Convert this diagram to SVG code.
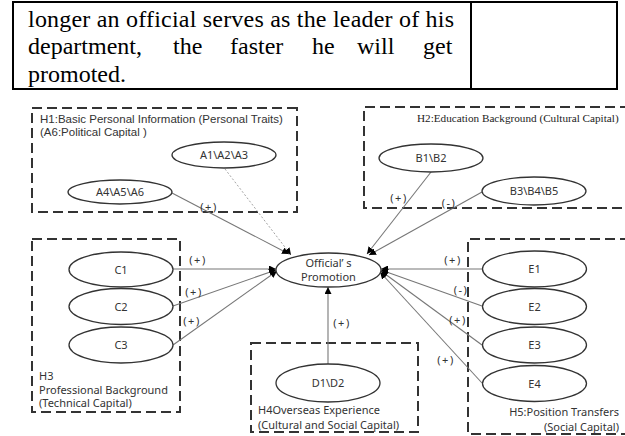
<svg xmlns="http://www.w3.org/2000/svg" width="625" height="436" viewBox="0 0 625 436">
<defs>
<style>
.tbl{fill:none;stroke:#000;stroke-width:2}
.body{font-family:"Liberation Serif","Times New Roman",serif;font-size:24px;fill:#000}
.grp{fill:none;stroke:#333;stroke-width:2;stroke-dasharray:10 5}
.ell{fill:#fff;stroke:#333;stroke-width:1.3}
.lab{font-family:"Noto Sans","Liberation Sans",sans-serif;font-size:11px;fill:#333}
.lab2{font-family:"Liberation Sans",Arial,sans-serif;font-size:11.5px;fill:#333}
.serif{font-family:"Liberation Serif","Times New Roman",serif;font-size:11.2px;fill:#222}
.node{font-family:"Noto Sans","Liberation Sans",sans-serif;font-size:11px;fill:#333;text-anchor:middle}
.sign{font-family:"Noto Sans","Liberation Sans",sans-serif;font-size:11px;fill:#333;text-anchor:middle;letter-spacing:1.5px}
.con{fill:none;stroke:#777;stroke-width:1.1;marker-end:url(#arr)}
.dot{stroke-dasharray:2 2;stroke:#999;stroke-width:0.9}
</style>
<marker id="arr" viewBox="0 0 10 10" refX="10" refY="5" markerWidth="7" markerHeight="7" markerUnits="userSpaceOnUse" orient="auto">
<path d="M0,0 L10,5 L0,10 z" fill="#000"/>
</marker>
</defs>
<rect width="625" height="436" fill="#fff"/>

<g id="table">
<rect class="tbl" x="13" y="2" width="604" height="87"/>
<line class="tbl" x1="471" y1="2" x2="471" y2="89"/>
<text class="body" x="28" y="27" textLength="426" lengthAdjust="spacing">longer an official serves as the leader of his</text>
<text class="body" y="54"><tspan x="28">department,</tspan><tspan x="173">the</tspan><tspan x="230">faster</tspan><tspan x="312">he</tspan><tspan x="357">will</tspan><tspan x="423">get</tspan></text>
<text class="body" x="28" y="82">promoted.</text>
</g>

<g id="H1">
<path class="grp" d="M297,108 H32 V212 H297 Z"/>
<text class="lab2" x="40" y="123">H1:Basic Personal Information (Personal Traits)</text>
<text class="lab2" x="40" y="136">(A6:Political Capital )</text>
</g>
<g id="H2">
<path class="grp" d="M630,107 H364 V208 H630"/>
<text class="serif" x="417" y="122">H2:Education Background (Cultural Capital)</text>
</g>
<g id="H3">
<rect class="grp" x="32" y="239" width="148" height="173"/>
<text class="lab" x="39" y="380">H3</text>
<text class="lab" x="39" y="393.5">Professional Background</text>
<text class="lab" x="39" y="407">(Technical Capital)</text>
</g>
<g id="H4">
<rect class="grp" x="251" y="343" width="167" height="89"/>
<text class="lab" x="258" y="414">H4Overseas Experience</text>
<text class="lab" x="258" y="429">(Cultural and Social Capital)</text>
</g>
<g id="H5">
<path class="grp" d="M630,239 H468 V434 H630"/>
<text class="lab" x="619" y="416" text-anchor="end">H5:Position Transfers</text>
<text class="lab" x="619" y="431" text-anchor="end">(Social Capital)</text>
</g>

<g id="connectors">
<line class="con dot" x1="225" y1="169" x2="291" y2="255"/>
<line class="con" x1="172" y1="193" x2="289" y2="254"/>
<line class="con" x1="431" y1="172" x2="367" y2="254"/>
<line class="con" x1="482" y1="192" x2="369" y2="255"/>
<line class="con" x1="173" y1="269" x2="276" y2="269"/>
<line class="con" x1="173" y1="306" x2="276" y2="270"/>
<line class="con" x1="173" y1="345" x2="277" y2="271"/>
<line class="con" x1="328" y1="364" x2="328" y2="287"/>
<line class="con" x1="482" y1="269" x2="381" y2="269"/>
<line class="con" x1="482" y1="306" x2="381" y2="270"/>
<line class="con" x1="482" y1="345" x2="381" y2="271"/>
<line class="con" x1="482" y1="383" x2="380" y2="272"/>
<text class="sign" x="209" y="211">(+)</text>
<text class="sign" x="399" y="202">(+)</text>
<text class="sign" x="449" y="207">(-)</text>
<text class="sign" x="198" y="264">(+)</text>
<text class="sign" x="194" y="296">(+)</text>
<text class="sign" x="192" y="325">(+)</text>
<text class="sign" x="342" y="327">(+)</text>
<text class="sign" x="453" y="264">(+)</text>
<text class="sign" x="461" y="294">(-)</text>
<text class="sign" x="458" y="324">(+)</text>
<text class="sign" x="446" y="364">(+)</text>
</g>

<g id="A1A2A3"><ellipse class="ell" cx="224" cy="155" rx="52" ry="13"/><text class="node" x="224" y="159">A1\A2\A3</text></g>
<g id="A4A5A6"><ellipse class="ell" cx="120" cy="192" rx="52" ry="12"/><text class="node" x="120" y="196">A4\A5\A6</text></g>
<g id="B1B2"><ellipse class="ell" cx="431" cy="158" rx="52" ry="14"/><text class="node" x="431" y="162">B1\B2</text></g>
<g id="B3B4B5"><ellipse class="ell" cx="534" cy="191" rx="52" ry="14"/><text class="node" x="534" y="195">B3\B4\B5</text></g>
<g id="C1"><ellipse class="ell" cx="121" cy="269.5" rx="52" ry="17.5"/><text class="node" x="121" y="273.5">C1</text></g>
<g id="C2"><ellipse class="ell" cx="121" cy="306.5" rx="52" ry="18"/><text class="node" x="121" y="310.5">C2</text></g>
<g id="C3"><ellipse class="ell" cx="121" cy="345" rx="52" ry="18"/><text class="node" x="121" y="349">C3</text></g>
<g id="D1D2"><ellipse class="ell" cx="328" cy="383" rx="52" ry="19"/><text class="node" x="328" y="387">D1\D2</text></g>
<g id="E1"><ellipse class="ell" cx="534.5" cy="269" rx="52" ry="18"/><text class="node" x="534.5" y="273">E1</text></g>
<g id="E2"><ellipse class="ell" cx="534.5" cy="306.5" rx="52" ry="18"/><text class="node" x="534.5" y="310.5">E2</text></g>
<g id="E3"><ellipse class="ell" cx="534.5" cy="345" rx="52" ry="18"/><text class="node" x="534.5" y="349">E3</text></g>
<g id="E4"><ellipse class="ell" cx="534.5" cy="383.5" rx="52" ry="18"/><text class="node" x="534.5" y="387.5">E4</text></g>
<g id="promotion"><ellipse class="ell" cx="328.5" cy="270" rx="52.5" ry="17"/><text class="node" x="328.5" y="266.5">Official’ s</text><text class="node" x="328.5" y="281">Promotion</text></g>
</svg>
